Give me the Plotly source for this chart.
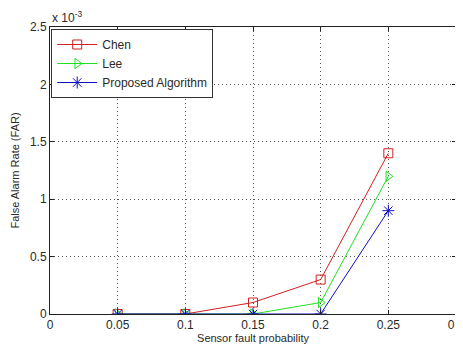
import plotly.graph_objects as go

x_vals = [0.05, 0.10, 0.15, 0.20, 0.25]
chen = [0.0, 0.0, 0.1e-3, 0.3e-3, 1.4e-3]
lee = [0.0, 0.0, 0.0, 0.1e-3, 1.2e-3]
proposed = [0.0, 0.0, 0.0, 0.0, 0.9e-3]

x_ticks = [0, 0.05, 0.1, 0.15, 0.2, 0.25, 0.3]
x_ticktext = ["0", "0.05", "0.1", "0.15", "0.2", "0.25", "0.3"]
y_ticks = [0, 0.5e-3, 1.0e-3, 1.5e-3, 2.0e-3, 2.5e-3]
y_ticktext = ["0", "0.5", "1", "1.5", "2", "2.5"]

font = "Liberation Sans, Arial, sans-serif"
txt = "#2a2a2a"

fig = go.Figure()
fig.add_trace(go.Scatter(x=x_vals, y=chen, name="Chen", mode="lines+markers",
                         line=dict(color="#d02020", width=1),
                         marker=dict(symbol="square-open", size=9, color="#d02020", line=dict(width=1))))
fig.add_trace(go.Scatter(x=x_vals, y=lee, name="Lee", mode="lines+markers",
                         line=dict(color="#20e020", width=1),
                         marker=dict(symbol="triangle-right-open", size=9, color="#20e020", line=dict(width=1))))
fig.add_trace(go.Scatter(x=x_vals, y=proposed, name="Proposed Algorithm", mode="lines+markers",
                         line=dict(color="#1010c0", width=1),
                         marker=dict(symbol="asterisk-open", size=10, color="#1010c0", line=dict(width=1, color="#1010c0"))))

axis_common = dict(
    showgrid=True, gridcolor="#555555", griddash="1px,3px", gridwidth=1,
    showline=True, linecolor="#222222", linewidth=1, mirror="ticks",
    ticks="inside", ticklen=4, tickcolor="#222222", zeroline=False,
    automargin=False, tickfont=dict(size=12, color=txt),
    ticklabeloverflow="allow",
)

# the page body adds an 8px offset, so the figure is sized to fit the window
fig.update_layout(
    width=455, height=338,
    margin=dict(l=42, r=7, t=19, b=32),
    paper_bgcolor="white", plot_bgcolor="white",
    font=dict(family=font, size=11, color=txt),
    showlegend=True,
    legend=dict(x=0.003, y=0.993, xanchor="left", yanchor="top",
                bgcolor="white", bordercolor="#333333", borderwidth=1,
                font=dict(size=12, color=txt),
                tracegroupgap=0, itemwidth=40),
    xaxis=dict(range=[0, 0.3], tickvals=x_ticks, ticktext=x_ticktext,
               title=dict(text="Sensor fault probability", font=dict(size=11, color=txt), standoff=2),
               **axis_common),
    yaxis=dict(range=[0, 2.5e-3], tickvals=y_ticks, ticktext=y_ticktext,
               title=dict(text="False Alarm Rate (FAR)", font=dict(size=11, color=txt), standoff=8),
               **axis_common),
)
fig.add_annotation(xref="paper", yref="paper", x=0.0, y=1.0, xanchor="left", yanchor="bottom",
                   text="x 10<sup>-3</sup>", showarrow=False, font=dict(size=12, color=txt),
                   yshift=0)

fig.write_html("out.html")
